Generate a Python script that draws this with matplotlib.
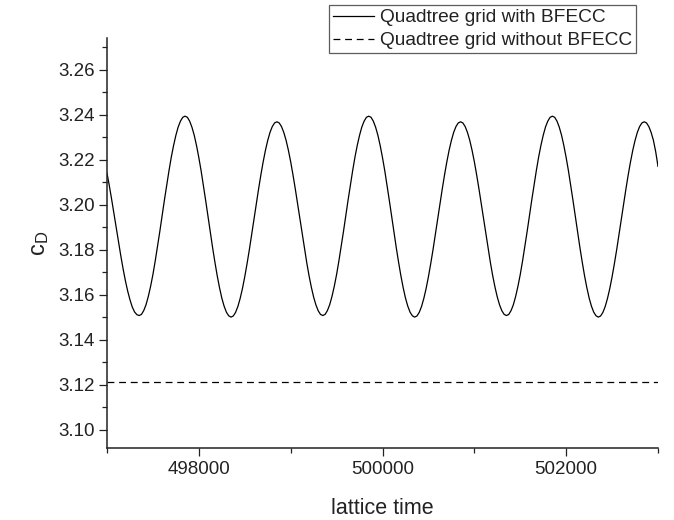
import numpy as np
import matplotlib
matplotlib.use('Agg')
import matplotlib.pyplot as plt
from matplotlib.ticker import MultipleLocator, FormatStrFormatter

plt.rcParams['font.family'] = ['Liberation Sans', 'DejaVu Sans']

# values, one row per half cycle
lattice_time = np.arange(497000, 503001, 25)
cd_bfecc = [
    3.2140, 3.2085, 3.2025, 3.1962, 3.1898, 3.1835, 3.1774, 3.1716, 3.1663, 3.1617, 3.1578, 3.1546, 3.1524, 3.1512, 3.1508,
    3.1513, 3.1530, 3.1556, 3.1593, 3.1638, 3.1690, 3.1750, 3.1814, 3.1881, 3.1951, 3.2020, 3.2087, 3.2151, 3.2211, 3.2263, 3.2308, 3.2345, 3.2371, 3.2388, 3.2393,
    3.2388, 3.2371, 3.2344, 3.2308, 3.2262, 3.2209, 3.2150, 3.2085, 3.2017, 3.1947, 3.1877, 3.1809, 3.1745, 3.1685, 3.1632, 3.1586, 3.1550, 3.1523, 3.1507, 3.1501,
    3.1506, 3.1522, 3.1548, 3.1584, 3.1628, 3.1680, 3.1738, 3.1800, 3.1867, 3.1935, 3.2002, 3.2068, 3.2131, 3.2189, 3.2241, 3.2285, 3.2321, 3.2347, 3.2363, 3.2368,
    3.2363, 3.2347, 3.2321, 3.2286, 3.2242, 3.2191, 3.2133, 3.2071, 3.2005, 3.1938, 3.1871, 3.1805, 3.1743, 3.1685, 3.1634, 3.1590, 3.1555, 3.1529, 3.1513, 3.1508,
    3.1513, 3.1530, 3.1556, 3.1593, 3.1638, 3.1690, 3.1750, 3.1814, 3.1881, 3.1951, 3.2020, 3.2087, 3.2151, 3.2211, 3.2263, 3.2308, 3.2345, 3.2371, 3.2388, 3.2393,
    3.2388, 3.2371, 3.2344, 3.2308, 3.2262, 3.2209, 3.2150, 3.2085, 3.2017, 3.1947, 3.1877, 3.1809, 3.1745, 3.1685, 3.1632, 3.1586, 3.1550, 3.1523, 3.1507, 3.1501,
    3.1506, 3.1522, 3.1548, 3.1584, 3.1628, 3.1680, 3.1738, 3.1800, 3.1867, 3.1935, 3.2002, 3.2068, 3.2131, 3.2189, 3.2241, 3.2285, 3.2321, 3.2347, 3.2363, 3.2368,
    3.2363, 3.2347, 3.2321, 3.2286, 3.2242, 3.2191, 3.2133, 3.2071, 3.2005, 3.1938, 3.1871, 3.1805, 3.1743, 3.1685, 3.1634, 3.1590, 3.1555, 3.1529, 3.1513, 3.1508,
    3.1513, 3.1530, 3.1556, 3.1593, 3.1638, 3.1690, 3.1750, 3.1814, 3.1881, 3.1951, 3.2020, 3.2087, 3.2151, 3.2211, 3.2263, 3.2308, 3.2345, 3.2371, 3.2388, 3.2393,
    3.2388, 3.2371, 3.2344, 3.2308, 3.2262, 3.2209, 3.2150, 3.2085, 3.2017, 3.1947, 3.1877, 3.1809, 3.1745, 3.1685, 3.1632, 3.1586, 3.1550, 3.1523, 3.1507, 3.1501,
    3.1506, 3.1522, 3.1548, 3.1584, 3.1628, 3.1680, 3.1738, 3.1800, 3.1867, 3.1935, 3.2002, 3.2068, 3.2131, 3.2189, 3.2241, 3.2285, 3.2321, 3.2347, 3.2363, 3.2368,
    3.2363, 3.2347, 3.2321, 3.2286, 3.2235, 3.2170,
]
time_no_bfecc = [497000, 503000]
cd_no_bfecc = [3.1212, 3.1212]

labels = ['Quadtree grid with BFECC', 'Quadtree grid without BFECC']

fig = plt.figure(figsize=(6.74, 5.20), dpi=100)
ax = fig.add_axes([107/674, 1 - 448/520, 551/674, 410/520])

l1, = ax.plot(lattice_time, cd_bfecc, '-', color='black', lw=0.9)
l2, = ax.plot(time_no_bfecc, cd_no_bfecc, '--', color='black', lw=0.9, dashes=(5.5, 3.8))

ax.set_xlim(497000, 503000)
ax.set_ylim(3.092, 3.274)

ax.xaxis.set_major_locator(MultipleLocator(2000))
ax.xaxis.set_minor_locator(MultipleLocator(1000))
ax.yaxis.set_major_locator(MultipleLocator(0.02))
ax.yaxis.set_minor_locator(MultipleLocator(0.01))
ax.yaxis.set_major_formatter(FormatStrFormatter('%.2f'))
ax.xaxis.set_major_formatter(FormatStrFormatter('%d'))

for s in ['top', 'right']:
    ax.spines[s].set_visible(False)
for s in ['left', 'bottom']:
    ax.spines[s].set_linewidth(1.1)
    ax.spines[s].set_color('#222222')

ax.tick_params(which='major', direction='out', length=6, width=0.9,
               labelsize=13.5, colors='#222222', pad=3)
ax.tick_params(which='minor', direction='out', length=3.5, width=0.9, colors='#222222')
ax.tick_params(axis='x', which='both', top=False)
ax.tick_params(axis='y', which='both', right=False)

ax.set_xlabel('lattice time', fontsize=15.5, color='#222222')
ax.xaxis.set_label_coords(0.5, -0.122)
ax.xaxis.label.set_va('top')
ax.set_ylabel(r'$\mathregular{c_D}$', fontsize=17, color='#222222')
ax.yaxis.set_label_coords(-0.122, 0.5)
ax.yaxis.label.set_va('center')

leg = fig.legend([l1, l2], labels, loc='upper right',
                 bbox_to_anchor=(636/674, 1 - 5/520), bbox_transform=fig.transFigure,
                 fontsize=13.8, frameon=True, fancybox=False, shadow=False,
                 borderpad=0.2, labelspacing=0.3, handlelength=2.15,
                 handletextpad=0.3, borderaxespad=0)
leg.get_frame().set_edgecolor('#333333')
leg.get_frame().set_linewidth(0.9)
for t in leg.get_texts():
    t.set_color('#222222')

fig.savefig('out.png', dpi=100)
